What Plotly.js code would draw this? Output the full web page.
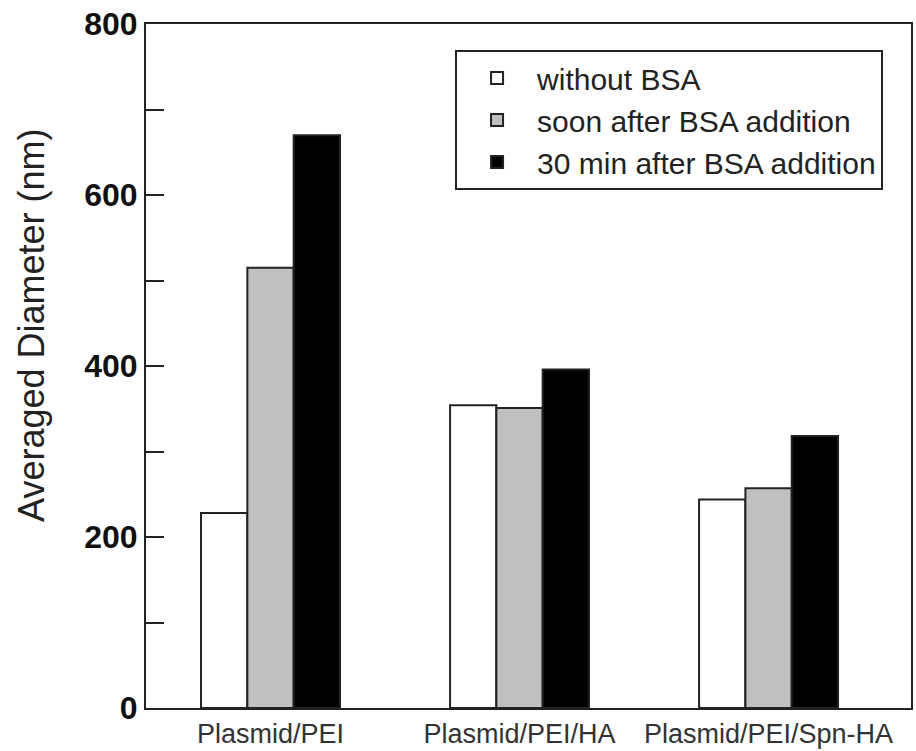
<!DOCTYPE html>
<html>
<head>
<meta charset="utf-8">
<script src="https://cdn.plot.ly/plotly-3.0.1.min.js"></script>
<style>html,body{margin:0;padding:0;background:#fff;}#chart{width:916px;height:751px;}</style>
</head>
<body>
<div id="chart"></div>
<script>
const categories = ["Plasmid/PEI", "Plasmid/PEI/HA", "Plasmid/PEI/Spn-HA"];
const seriesNames = ["without BSA", "soon after BSA addition", "30 min after BSA addition"];
const withoutBSA = [228, 354, 244];
const soonAfterBSA = [515, 351, 257];
const min30AfterBSA = [670, 396, 318];
const yTickVals = [0, 100, 200, 300, 400, 500, 600, 700, 800];
const yTickText = ["0", "", "200", "", "400", "", "600", "", "800"];
const yTitle = "Averaged Diameter (nm)";

const fills = ["#ffffff", "#c0c0c0", "#000000"];
const values = [withoutBSA, soonAfterBSA, min30AfterBSA];

const traces = values.map((v, i) => ({
  type: "bar",
  name: seriesNames[i],
  x: categories,
  y: v,
  marker: { color: fills[i], line: { color: "#222222", width: 2 } },
  legendgroup: "g" + i
}));

const layout = {
  width: 916,
  height: 751,
  margin: { l: 146, r: 5, t: 24, b: 43 },
  paper_bgcolor: "#ffffff",
  plot_bgcolor: "#ffffff",
  font: { family: "Liberation Sans, Arial, sans-serif", color: "#222222" },
  barmode: "group",
  bargap: 0.442,
  bargroupgap: 0,
  showlegend: true,
  legend: {
    x: 0.404, y: 0.962, xanchor: "left", yanchor: "top",
    bgcolor: "#ffffff", bordercolor: "#222222", borderwidth: 2,
    font: { size: 30, color: "#222222" },
    tracegroupgap: 7,
    itemwidth: 70,
    traceorder: "normal"
  },
  xaxis: {
    type: "category",
    range: [-0.5, 2.572],
    showline: true, linecolor: "#222222", linewidth: 2, mirror: true,
    ticks: "", showgrid: false, zeroline: false,
    ticklabelstandoff: 1,
    tickfont: { size: 27, color: "#333333" }
  },
  yaxis: {
    range: [0, 800],
    showline: true, linecolor: "#222222", linewidth: 2, mirror: true,
    ticks: "inside", ticklen: 18, tickwidth: 2, tickcolor: "#222222",
    tickvals: yTickVals, ticktext: yTickText,
    showgrid: false, zeroline: false,
    tickfont: { size: 32, color: "#111111", weight: "bold" }
  },
  annotations: [{
    text: yTitle, textangle: -90, showarrow: false,
    xref: "paper", yref: "paper", x: -0.149, y: 0.56,
    xanchor: "center", yanchor: "middle",
    font: { size: 36, color: "#222222" }
  }]
};

Plotly.newPlot("chart", traces, layout, { displayModeBar: false, staticPlot: true });
</script>
</body>
</html>
